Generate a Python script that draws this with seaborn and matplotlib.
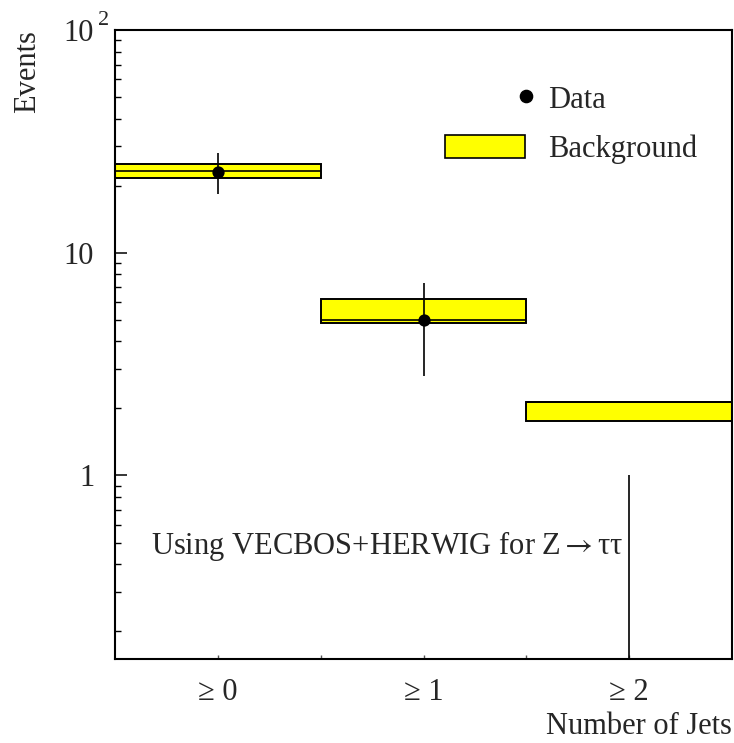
import numpy as np
import matplotlib
matplotlib.use("Agg")
import matplotlib.pyplot as plt
import seaborn as sns
from matplotlib.lines import Line2D
from matplotlib.patches import Patch
from matplotlib.legend_handler import HandlerBase
from matplotlib.ticker import FixedLocator, FixedFormatter, LogLocator, NullFormatter

# Jet-multiplicity bins
jet_bins = ["\u2265 0", "\u2265 1", "\u2265 2"]

# Observed events and their error-bar ends
data_events = [23.0, 5.0, 0.0]
data_low = [18.4, 2.8, 0.0]
data_high = [27.9, 7.3, 1.0]

# Expected background: central value and uncertainty band
bkg_central = [23.2, 5.0, 2.13]
bkg_low = [21.7, 4.85, 1.75]
bkg_high = [24.9, 6.2, 2.13]

sns.set_theme(style="ticks")
plt.rcParams["font.family"] = ["Liberation Serif", "DejaVu Serif"]
plt.rcParams["mathtext.fontset"] = "stix"

FS = 22
YELLOW = "#ffff00"

fig = plt.figure(figsize=(7.34, 7.43), dpi=100)
ax = fig.add_axes([115 / 734, (743 - 659) / 743, 617 / 734, 629 / 743])

x = np.arange(len(jet_bins))
lo = np.array(bkg_low)
hi = np.array(bkg_high)

# background bands
ax.bar(x, hi - lo, bottom=lo, width=1.0, color=YELLOW, edgecolor="black",
       linewidth=1.4, zorder=2)
ax.hlines(bkg_central, x - 0.5, x + 0.5, color="black", linewidth=1.2, zorder=3)

# data with error bars
d = np.array(data_events)
ax.errorbar(x, d, yerr=[d - np.array(data_low), np.array(data_high) - d],
            fmt="none", ecolor="black", elinewidth=1.2, capsize=0, zorder=4)
pos = d > 0
sns.scatterplot(x=x[pos], y=d[pos], ax=ax, color="black", s=78,
                edgecolor="black", linewidth=0, zorder=5, legend=False)

ax.set_yscale("log")
ax.set_xlim(-0.5, 2.5)
ax.set_ylim(0.15, 100)

# y axis ticks
ax.yaxis.set_major_locator(FixedLocator([1, 10, 100]))
ax.yaxis.set_major_formatter(FixedFormatter(["1", "10", "10"]))
ax.yaxis.set_minor_locator(LogLocator(base=10, subs=np.arange(2, 10)))
ax.yaxis.set_minor_formatter(NullFormatter())
ax.tick_params(axis="y", which="major", direction="in", length=8.5, width=1.1,
               labelsize=FS, pad=15, color="black")
ax.tick_params(axis="y", which="minor", direction="in", length=4.3, width=1.0,
               color="black")
ax.text(-0.028, 100, "2", transform=ax.get_yaxis_transform(), fontsize=16,
        ha="left", va="bottom")

# x axis ticks
ax.set_xticks(x)
ax.set_xticklabels(jet_bins)
ax.set_xticks([0.5, 1.5], minor=True)
ax.tick_params(axis="x", which="both", direction="in", length=3.2, width=1.0,
               color="#555555", labelsize=FS, pad=14)
ax.tick_params(axis="x", which="minor", labelbottom=False)

for s in ax.spines.values():
    s.set_linewidth(1.5)
    s.set_color("black")

ax.set_xlabel("Number of Jets", fontsize=FS, loc="right", labelpad=3)
ax.set_ylabel("Events", fontsize=FS, loc="top", labelpad=16)

ax.text(0.058, 0.18, "Using VECBOS+HERWIG for Z${\\rightarrow}$\u03c4\u03c4",
        transform=ax.transAxes, fontsize=FS, ha="left", va="center")


class DotAtEnd(HandlerBase):
    def create_artists(self, legend, orig_handle, xdescent, ydescent, width,
                       height, fontsize, trans):
        dot = Line2D([-xdescent + width + 0.5], [(height - ydescent) / 2],
                     marker="o", linestyle="none", color="black",
                     markersize=orig_handle.get_markersize(), transform=trans)
        return [dot]


data_handle = Line2D([], [], marker="o", linestyle="none", color="black",
                     markersize=8.8)
bkg_handle = Patch(facecolor=YELLOW, edgecolor="black", linewidth=1.2)
ax.legend([data_handle, bkg_handle], ["Data", "Background"],
          handler_map={Line2D: DotAtEnd()},
          loc="upper left", bbox_to_anchor=(0.535, 0.912), frameon=False,
          fontsize=FS, handlelength=2.62, handleheight=0.785,
          handletextpad=0.75, labelspacing=0.67, borderpad=0,
          borderaxespad=0)

fig.savefig("out.png", dpi=100)
